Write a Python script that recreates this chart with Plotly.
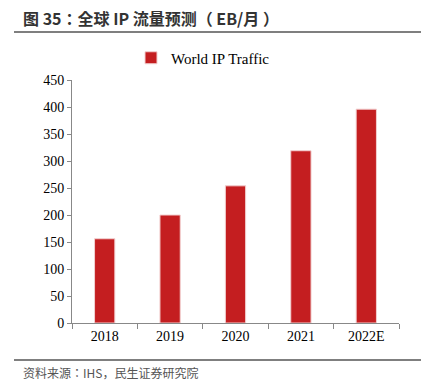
import plotly.graph_objects as go

categories = ["2018", "2019", "2020", "2021", "2022E"]
traffic = [156, 200, 254, 319, 396]
y_ticks = [0, 50, 100, 150, 200, 250, 300, 350, 400, 450]

L, R, T, B = 72, 30, 80, 57
W, H = 429, 380
pw, ph = W - L - R, H - T - B

def px(x):
    return (x - L) / pw

def py(y):
    return (H - B - y) / ph

fig = go.Figure()
fig.add_trace(go.Bar(
    x=categories, y=traffic, name="World IP Traffic",
    marker=dict(color="#C41E20", line=dict(color="#F2D0D0", width=1)),
    width=0.31,
))

serif = "Liberation Serif, Times New Roman, serif"
cjk = "Noto Sans CJK JP, Noto Sans CJK SC, sans-serif"

fig.update_layout(
    width=W, height=H,
    margin=dict(l=L, r=R, t=T, b=B),
    paper_bgcolor="white", plot_bgcolor="white",
    showlegend=True,
    legend=dict(orientation="h", x=px(131), y=py(58), xanchor="left", yanchor="middle",
                font=dict(family=serif, size=15, color="black"),
                itemwidth=30, bgcolor="rgba(0,0,0,0)"),
    xaxis=dict(type="category", showline=True, linecolor="#888888", linewidth=1,
               ticks="outside", tickson="boundaries", ticklen=5, tickcolor="#888888",
               tickfont=dict(family=serif, size=14, color="black"), showgrid=False),
    yaxis=dict(range=[0, 450], tickvals=y_ticks, showline=True, linecolor="#888888", linewidth=1,
               ticks="outside", ticklen=4, tickcolor="#888888", showgrid=False, zeroline=False,
               tickfont=dict(family=serif, size=14, color="black")),
    bargap=0.2,
)

fig.add_annotation(text="<b>图 35：全球 IP 流量预测（ EB/月 ）</b>", xref="paper", yref="paper",
                   x=px(21), y=py(18), xanchor="left", yanchor="middle", showarrow=False,
                   font=dict(family=cjk, size=16, color="#333333"))
fig.add_annotation(text="资料来源：IHS，民生证券研究院", xref="paper", yref="paper",
                   x=px(21), y=py(372), xanchor="left", yanchor="middle", showarrow=False,
                   font=dict(family=cjk, size=12, color="#555555"))
fig.add_shape(type="line", xref="paper", yref="paper", x0=px(14), x1=px(421), y0=py(32), y1=py(32),
              line=dict(color="#555555", width=1.5))
fig.add_shape(type="line", xref="paper", yref="paper", x0=px(14), x1=px(421), y0=py(360), y1=py(360),
              line=dict(color="#555555", width=1.5))

fig.write_html("out.html", config={"displayModeBar": False},
               post_script="document.body.style.margin='0';document.body.style.overflow='hidden';")
